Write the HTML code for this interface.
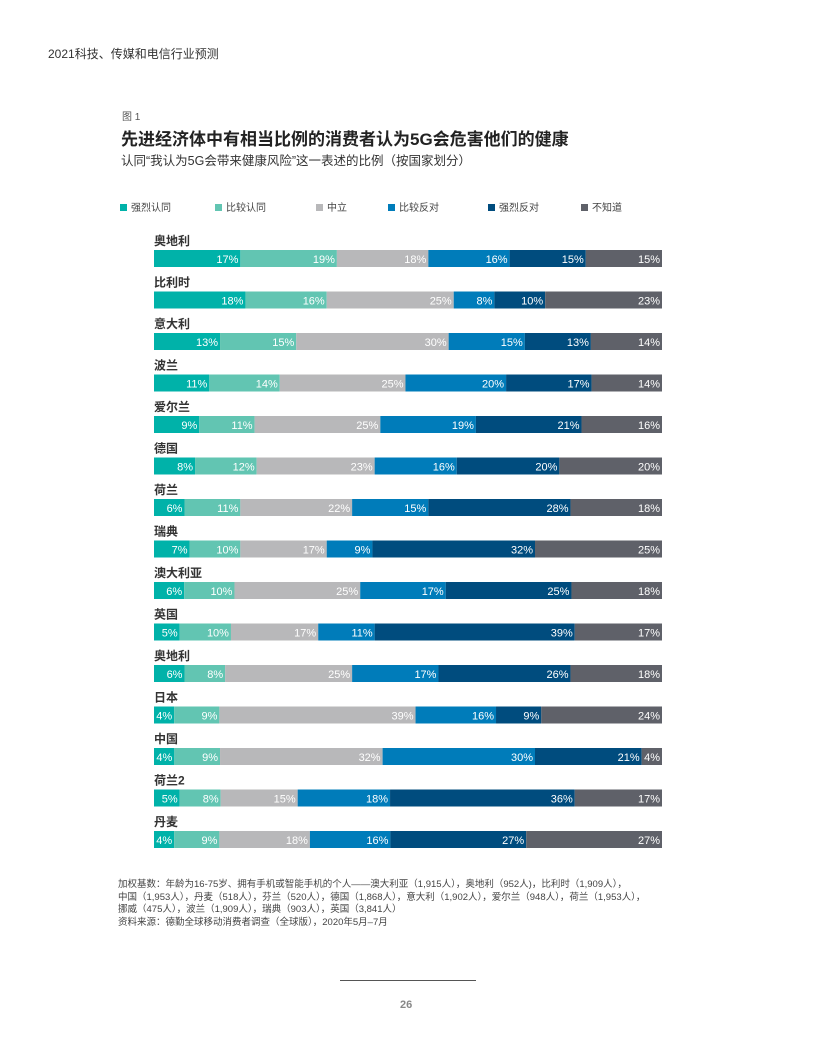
<!DOCTYPE html>
<html><head><meta charset="utf-8">
<style>
body{margin:0;background:#fff;font-family:"Liberation Sans","Noto Sans CJK SC",sans-serif;}
#page{position:relative;width:816px;height:1056px;overflow:hidden;}
.abs{position:absolute;white-space:nowrap;}
</style></head><body>
<div id="page">
<div class="abs" style="left:48px;top:45px;font-size:12px;color:#333;">2021科技、传媒和电信行业预测</div>
<div class="abs" style="left:122px;top:108px;font-size:10px;color:#555;">图 1</div>
<div class="abs" style="left:121px;top:125px;font-size:17px;font-weight:bold;color:#222;">先进经济体中有相当比例的消费者认为5G会危害他们的健康</div>
<div class="abs" style="left:121px;top:150px;font-size:12.5px;color:#333;">认同“我认为5G会带来健康风险”这一表述的比例（按国家划分）</div>
<div id="legend"></div>
<svg id="chart" width="816" height="1056" style="position:absolute;left:0;top:0;"></svg>
<div class="abs" style="left:118px;top:879px;font-size:9.5px;color:#444;line-height:12.7px;">加权基数：年龄为16-75岁、拥有手机或智能手机的个人——澳大利亚（1,915人），奥地利（952人)，比利时（1,909人），<br>中国（1,953人），丹麦（518人），芬兰（520人），德国（1,868人），意大利（1,902人），爱尔兰（948人），荷兰（1,953人），<br>挪威（475人），波兰（1,909人），瑞典（903人），英国（3,841人）<br>资料来源：德勤全球移动消费者调查（全球版），2020年5月–7月</div>
<div class="abs" style="left:340px;top:980px;width:136px;height:1px;background:#555;"></div>
<div class="abs" style="left:400px;top:999px;font-size:11px;font-weight:bold;color:#888;">26</div>
</div>
<script>
const categories=["奥地利","比利时","意大利","波兰","爱尔兰","德国","荷兰","瑞典","澳大利亚","英国","奥地利","日本","中国","荷兰2","丹麦"];
const seriesNames=["强烈认同","比较认同","中立","比较反对","强烈反对","不知道"];
const strongAgree=[17,18,13,11,9,8,6,7,6,5,6,4,4,5,4];
const agree=[19,16,15,14,11,12,11,10,10,10,8,9,9,8,9];
const neutral=[18,25,30,25,25,23,22,17,25,17,25,39,32,15,18];
const disagree=[16,8,15,20,19,16,15,9,17,11,17,16,30,18,16];
const strongDisagree=[15,10,13,17,21,20,28,32,25,39,26,9,21,36,27];
const dontKnow=[15,23,14,14,16,20,18,25,18,17,18,24,4,17,27];
const series=[strongAgree,agree,neutral,disagree,strongDisagree,dontKnow];
const colors=["#00b2a9","#62c5b2","#b8b8ba","#007cba","#004c7e","#5f6169"];
const X0=154,X1=662,Y0=250,STEP=41.5,BH=17;
const svg=document.getElementById('chart');
const NS="http://www.w3.org/2000/svg";
function yPos(i){return Y0+i*STEP;}
categories.forEach((c,i)=>{
  const y=yPos(i);
  const t=document.createElementNS(NS,'text');
  
  
  t.setAttribute('x',X0);t.setAttribute('y',y-5);
  t.setAttribute('font-size','12');t.setAttribute('font-weight','bold');t.setAttribute('fill','#333');
  t.setAttribute('font-family','"Liberation Sans","Noto Sans CJK SC",sans-serif');
  t.textContent=c;svg.appendChild(t);
  let total=0;series.forEach(s=>total+=s[i]);
  let acc=0;
  series.forEach((s,k)=>{
    const xa=X0+(X1-X0)*acc/total;acc+=s[i];
    const xb=X0+(X1-X0)*acc/total;
    const r=document.createElementNS(NS,'rect');
    
    
    r.setAttribute('x',xa);r.setAttribute('y',y);r.setAttribute('width',xb-xa);r.setAttribute('height',BH);
    r.setAttribute('fill',colors[k]);svg.appendChild(r);
    const v=document.createElementNS(NS,'text');
    
    
    v.setAttribute('x',xb-2);v.setAttribute('y',y+13);v.setAttribute('text-anchor','end');
    v.setAttribute('font-size','11');v.setAttribute('fill','#fff');
    v.setAttribute('font-family','"Liberation Sans",sans-serif');
    v.textContent=s[i]+'%';svg.appendChild(v);
  });
});
const legX=[120,215,316,388,488,581];
const lg=document.getElementById('legend');
seriesNames.forEach((n,k)=>{
  const d=document.createElement('div');
  
  
  d.className='abs';
  d.style.cssText='left:'+legX[k]+'px;top:199px;font-size:10px;color:#444;';
  d.innerHTML='<span style="display:inline-block;width:7px;height:7px;background:'+colors[k]+';margin-right:4px;"></span>'+n;
  lg.appendChild(d);
});
</script>
</body></html>
